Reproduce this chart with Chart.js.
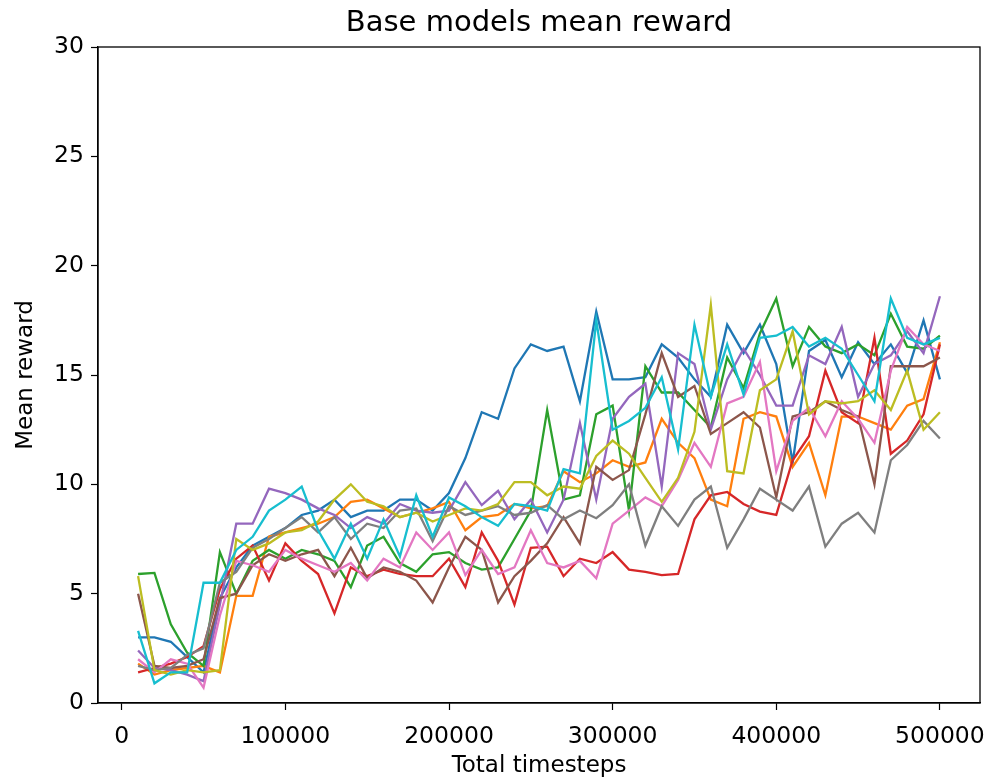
<!DOCTYPE html>
<html>
<head>
<meta charset="utf-8">
<title>Base models mean reward</title>
<script src="https://cdn.jsdelivr.net/npm/chart.js@4.4.1/dist/chart.umd.min.js"></script>
<style>
    html, body { margin: 0; padding: 0; background: #fff; }
    canvas { display: block; }
</style>
</head>
<body>
<canvas id="rewardChart" width="992" height="782"></canvas>
<script>
// ─── Data ─────────────────────────────────────────────────────────────────────
const steps = [
    10000, 20000, 30000, 40000, 50000, 60000, 70000, 80000, 90000, 100000,
    110000, 120000, 130000, 140000, 150000, 160000, 170000, 180000, 190000, 200000,
    210000, 220000, 230000, 240000, 250000, 260000, 270000, 280000, 290000, 300000,
    310000, 320000, 330000, 340000, 350000, 360000, 370000, 380000, 390000, 400000,
    410000, 420000, 430000, 440000, 450000, 460000, 470000, 480000, 490000, 500000
];
const xTicks = [0, 100000, 200000, 300000, 400000, 500000];
const yTicks = [0, 5, 10, 15, 20, 25, 30];

const run0 = [3.0, 3.0, 2.8, 2.1, 1.4, 4.8, 6.2, 7.2, 7.6, 8.0,
    8.6, 8.8, 9.3, 8.5, 8.8, 8.8, 9.3, 9.3, 8.8, 9.6,
    11.2, 13.3, 13.0, 15.3, 16.4, 16.1, 16.3, 13.8, 17.9, 14.8,
    14.8, 14.9, 16.4, 15.8, 14.8, 14.0, 17.3, 16.0, 17.3, 15.5,
    11.0, 16.1, 16.6, 14.9, 16.5, 15.5, 16.4, 15.1, 17.5, 14.8];
const run1 = [1.8, 1.3, 1.5, 1.6, 1.7, 1.4, 4.9, 4.9, 7.6, 7.8,
    8.0, 8.2, 8.5, 9.2, 9.3, 8.9, 8.5, 8.7, 8.9, 9.2,
    7.9, 8.5, 8.6, 9.1, 8.9, 9.0, 10.6, 10.1, 10.5, 11.1,
    10.8, 11.0, 13.0, 11.9, 11.2, 9.3, 9.0, 13.0, 13.3, 13.1,
    10.8, 11.9, 9.5, 13.1, 13.1, 12.8, 12.5, 13.6, 13.9, 16.5];
const run2 = [5.9, 5.95, 3.6, 2.3, 1.7, 6.9, 5.0, 6.5, 7.0, 6.6,
    7.0, 6.8, 6.5, 5.3, 7.2, 7.6, 6.4, 6.0, 6.8, 6.9,
    6.4, 6.1, 6.2, 7.5, 8.8, 13.4, 9.3, 9.5, 13.2, 13.6,
    8.8, 15.4, 14.2, 14.2, 13.4, 12.6, 15.8, 14.4, 16.9, 18.5,
    15.4, 17.2, 16.3, 16.0, 16.4, 15.9, 17.8, 16.3, 16.2, 16.8];
const run3 = [1.4, 1.6, 1.8, 2.1, 2.6, 5.2, 6.6, 7.2, 5.6, 7.3,
    6.5, 5.9, 4.1, 6.2, 5.8, 6.1, 5.9, 5.8, 5.8, 6.6,
    5.3, 7.8, 6.5, 4.5, 7.1, 7.15, 5.8, 6.6, 6.4, 6.9,
    6.1, 6.0, 5.85, 5.9, 8.4, 9.5, 9.65, 9.1, 8.75, 8.6,
    11.1, 12.2, 15.2, 13.3, 12.8, 16.7, 11.4, 12.0, 13.2, 16.4];
const run4 = [2.4, 1.6, 1.5, 1.3, 1.0, 4.5, 8.2, 8.2, 9.8, 9.6,
    9.3, 8.9, 8.6, 8.0, 8.5, 8.2, 9.1, 8.8, 8.7, 8.8,
    10.1, 9.05, 9.7, 8.4, 9.3, 7.8, 9.3, 12.8, 9.3, 13.0,
    14.0, 14.6, 9.9, 16.0, 15.5, 12.5, 14.8, 16.2, 15.0, 13.6,
    13.6, 15.9, 15.5, 17.2, 14.0, 15.5, 15.9, 17.0, 16.0, 18.6];
const run5 = [5.0, 1.7, 1.6, 1.7, 2.0, 4.8, 5.0, 6.3, 6.8, 6.5,
    6.8, 7.0, 5.8, 7.1, 5.7, 6.2, 6.0, 5.6, 4.6, 6.2,
    7.6, 7.0, 4.6, 5.8, 6.5, 7.3, 8.5, 7.3, 10.8, 10.2,
    10.65, 13.2, 16.0, 14.0, 14.5, 12.3, 12.8, 13.3, 12.6, 9.4,
    13.1, 13.3, 13.8, 13.4, 13.1, 10.0, 15.4, 15.4, 15.4, 15.8];
const run6 = [2.0, 1.4, 2.0, 1.8, 0.7, 4.0, 6.5, 6.3, 6.0, 7.0,
    6.6, 6.3, 6.0, 6.4, 5.6, 6.6, 6.2, 7.8, 7.0, 7.8,
    5.85, 7.0, 5.9, 6.2, 7.9, 6.4, 6.2, 6.5, 5.7, 8.2,
    8.8, 9.4, 9.0, 10.2, 11.9, 10.8, 13.7, 14.0, 15.6, 10.6,
    12.9, 13.5, 12.2, 13.8, 13.0, 11.9, 15.2, 17.2, 16.4, 16.1];
const run7 = [1.7, 1.5, 1.6, 2.2, 2.5, 5.5, 6.0, 7.1, 7.5, 8.0,
    8.5, 7.8, 8.5, 7.5, 8.2, 8.0, 8.8, 8.9, 7.4, 9.0,
    8.6, 8.8, 9.0, 8.6, 8.7, 9.05, 8.4, 8.8, 8.45, 9.05,
    10.0, 7.2, 9.0, 8.1, 9.3, 9.9, 7.1, 8.4, 9.8, 9.3,
    8.8, 9.9, 7.15, 8.2, 8.7, 7.8, 11.1, 11.8, 12.9, 12.1];
const run8 = [5.8, 1.5, 1.3, 1.5, 1.4, 1.5, 7.5, 7.0, 7.3, 7.8,
    7.9, 8.3, 9.3, 10.0, 9.2, 9.0, 8.5, 8.7, 8.3, 8.6,
    8.9, 8.8, 9.1, 10.1, 10.1, 9.5, 9.9, 9.8, 11.3, 12.0,
    11.4, 10.3, 9.2, 10.3, 12.4, 18.2, 10.6, 10.5, 14.3, 14.8,
    17.0, 13.2, 13.8, 13.7, 13.8, 14.3, 13.4, 15.2, 12.5, 13.3];
const run9 = [3.3, 0.9, 1.4, 1.4, 5.5, 5.5, 7.0, 7.6, 8.8, 9.3,
    9.9, 7.9, 6.6, 8.2, 6.6, 8.4, 6.7, 9.5, 7.6, 9.4,
    9.0, 8.5, 8.1, 9.1, 9.0, 8.8, 10.7, 10.5, 17.5, 12.5,
    12.9, 13.5, 14.9, 11.6, 17.3, 14.0, 16.4, 14.1, 16.7, 16.8,
    17.2, 16.3, 16.7, 16.2, 15.0, 13.8, 18.5, 16.7, 16.4, 16.7];

const runs = [run0, run1, run2, run3, run4, run5, run6, run7, run8, run9];
const colors = ['#1f77b4', '#ff7f0e', '#2ca02c', '#d62728', '#9467bd',
    '#8c564b', '#e377c2', '#7f7f7f', '#bcbd22', '#17becf'];

// ─── Layout (matplotlib axes box) ─────────────────────────────────────────────
const AXES_LEFT = 98;
const AXES_BOTTOM_GAP = 79;
const FONT = 'DejaVu Sans';

// draws the top/right spines so the axes is a full box
const frameBox = {
    id: 'frameBox',
    afterDatasetsDraw(chart) {
        const { ctx, chartArea: a } = chart;
        ctx.save();
        ctx.strokeStyle = '#000';
        ctx.lineWidth = 1.3;
        ctx.strokeRect(a.left, a.top, a.right - a.left, a.bottom - a.top);
        ctx.restore();
    }
};

// ─── Chart ────────────────────────────────────────────────────────────────────
function renderChart() {
    const ctx = document.getElementById('rewardChart');
    new Chart(ctx, {
        type: 'line',
        data: {
            datasets: runs.map((vals, i) => ({
                data: vals.map((v, j) => ({ x: steps[j], y: v })),
                borderColor: colors[i],
                backgroundColor: colors[i],
                borderWidth: 2.3,
                pointRadius: 0,
                tension: 0,
                fill: false,
                order: runs.length - 1 - i
            }))
        },
        options: {
            responsive: false,
            animation: false,
            devicePixelRatio: 1,
            layout: { padding: { left: 0, right: 12, top: 0, bottom: 0 } },
            plugins: {
                legend: { display: false },
                tooltip: { enabled: false },
                title: {
                    display: true,
                    fullSize: false,
                    text: 'Base models mean reward',
                    color: '#000',
                    font: { family: FONT, size: 29, weight: 'normal', lineHeight: 1.2 },
                    padding: { top: 6, bottom: 6.2 }
                }
            },
            scales: {
                x: {
                    type: 'linear',
                    min: -14500,
                    max: 524500,
                    afterBuildTicks: axis => { axis.ticks = xTicks.map(v => ({ value: v })); },
                    afterFit: scale => {
                        scale.height = AXES_BOTTOM_GAP;
                        // tick labels may hang past the frame like in matplotlib
                        scale.paddingLeft = 0;
                        scale.paddingRight = 0;
                    },
                    grid: { display: true, drawOnChartArea: false, drawTicks: true, tickLength: 7, tickWidth: 1.2, color: '#000' },
                    border: { display: true, color: '#000', width: 1.3 },
                    ticks: { color: '#000', padding: 13, maxRotation: 0, autoSkip: false, font: { family: FONT, size: 23.5 }, callback: v => String(v) },
                    title: { display: true, text: 'Total timesteps', color: '#000', font: { family: FONT, size: 23, lineHeight: 1.2 }, padding: { top: 0, bottom: 2 } }
                },
                y: {
                    type: 'linear',
                    min: 0,
                    max: 30,
                    afterBuildTicks: axis => { axis.ticks = yTicks.map(v => ({ value: v })); },
                    afterFit: scale => { scale.width = AXES_LEFT; },
                    grid: { display: true, drawOnChartArea: false, drawTicks: true, tickLength: 7, tickWidth: 1.2, color: '#000' },
                    border: { display: true, color: '#000', width: 1.3 },
                    ticks: { color: '#000', padding: 7, font: { family: FONT, size: 23.5 }, callback: v => String(v) },
                    title: { display: true, text: 'Mean reward', color: '#000', font: { family: FONT, size: 23, lineHeight: 1.2 }, padding: { top: 12, bottom: 4 } }
                }
            }
        },
        plugins: [frameBox]
    });
}

document.addEventListener('DOMContentLoaded', renderChart);
</script>
</body>
</html>
